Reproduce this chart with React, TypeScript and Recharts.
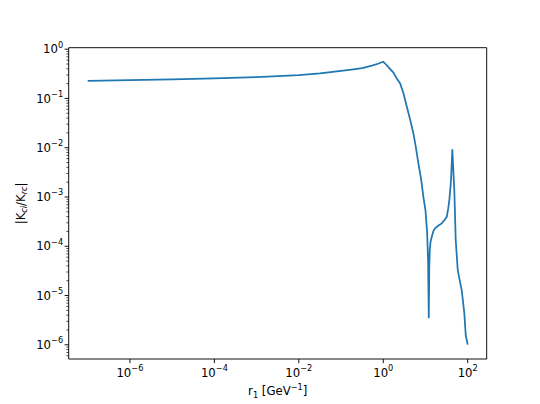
import React from 'react';
import { LineChart, Line, XAxis, YAxis, ReferenceArea } from 'recharts';

const rValues = [
  1e-7, 1e-6, 1e-5, 1e-4, 1e-3, 1e-2, 0.0316, 0.1, 0.178, 0.316, 0.562, 0.75, 1.0,
  1.148, 1.318, 1.742, 2.089, 2.512, 3.02, 3.614, 4.365, 5.176, 5.888, 6.761, 7.943, 8.913,
  10.0, 10.96, 11.53, 11.97, 12.3, 12.65, 13.18, 14.09, 15.49, 16.87, 19.95, 24.27, 28.18,
  31.92, 34.67, 36.73, 40.27, 43.25, 48.19, 52.0, 58.08, 64.57, 72.11, 83.18, 89.74, 100,
];
const ratioValues = [
  0.227, 0.235, 0.244, 0.255, 0.271, 0.299, 0.324, 0.361, 0.385, 0.413, 0.468, 0.507, 0.555,
  0.495, 0.432, 0.335, 0.254, 0.201, 0.126, 0.0676, 0.0363, 0.0195, 0.0105, 0.0049, 0.00219, 0.001,
  5.37e-4, 1.86e-4, 5.0e-5, 3.47e-6, 3.8e-5, 8.4e-5, 1.23e-4, 1.56e-4, 2.06e-4, 2.31e-4, 2.61e-4, 2.91e-4, 3.4e-4,
  3.96e-4, 5.94e-4, 8.65e-4, 2.2e-3, 9.25e-3, 1.38e-3, 1.34e-4, 3.3e-5, 2.06e-5, 1.29e-5, 4.4e-6, 1.58e-6, 1.01e-6,
];
const xTicks = [1e-6, 1e-4, 1e-2, 1, 1e2];
const yMajorTicks = [1e-6, 1e-5, 1e-4, 1e-3, 1e-2, 1e-1, 1];

const X_DOMAIN: [number, number] = [3.548e-8, 281.8];
const Y_DOMAIN: [number, number] = [5.15e-7, 1.072];

const data = rValues.map((r, i) => ({ r, k: ratioValues[i] }));

const yTicks: number[] = [];
for (let e = -7; e <= 0; e++) {
  for (let m = 1; m <= 9; m++) {
    const v = m * Math.pow(10, e);
    if (v >= Y_DOMAIN[0] && v <= Y_DOMAIN[1]) yTicks.push(v);
  }
}

const FONT = 'DejaVu Sans';
const FS = 11.7;
const SUP = 8.2;
const AX = '#000000';

const expStr = (v: number) => {
  const e = Math.round(Math.log10(v));
  return e < 0 ? '\u2212' + Math.abs(e) : String(e);
};

const XTick = (props: any) => {
  const { x, y, payload } = props;
  return (
    <g>
      <line x1={x} y1={y} x2={x} y2={y + 4.1} stroke={AX} strokeWidth={0.94} />
      <text x={x} y={y + 18} textAnchor="middle" fontSize={FS} fontFamily={FONT} fill="#000">
        10<tspan dy={-5.8} fontSize={SUP}>{expStr(payload.value)}</tspan>
      </text>
    </g>
  );
};

const YTick = (props: any) => {
  const { x, y, payload } = props;
  const v = payload.value;
  const isMajor = yMajorTicks.some((t) => Math.abs(Math.log10(t) - Math.log10(v)) < 1e-6);
  if (!isMajor) {
    return <line x1={x} y1={y} x2={x - 2.3} y2={y} stroke={AX} strokeWidth={0.7} />;
  }
  const ex = expStr(v);
  return (
    <g>
      <line x1={x} y1={y} x2={x - 4.1} y2={y} stroke={AX} strokeWidth={0.94} />
      <text x={x - 5.6} y={y + 4.2} textAnchor="end" fontSize={FS} fontFamily={FONT} fill="#000">
        10<tspan dy={-5.8} fontSize={SUP}>{ex}</tspan>
      </text>
    </g>
  );
};

const XLabel = (props: any) => {
  const vb = props.viewBox || {};
  const cx = vb.x + vb.width / 2;
  const by = vb.y + 36;
  return (
    <text x={cx} y={by} textAnchor="middle" fontSize={FS} fontFamily={FONT} fill="#000">
      r<tspan dy={3} fontSize={SUP}>1</tspan>
      <tspan dy={-3}> [GeV</tspan>
      <tspan dy={-5.3} fontSize={SUP}>{'\u22121'}</tspan>
      <tspan dy={5.3}>]</tspan>
    </text>
  );
};

const YLabel = (props: any) => {
  const vb = props.viewBox || {};
  const bx = vb.x + vb.width - 44;
  const cy = vb.y + vb.height / 2;
  return (
    <text
      x={bx}
      y={cy}
      transform={`rotate(-90, ${bx}, ${cy})`}
      textAnchor="middle"
      fontSize={FS}
      fontFamily={FONT}
      fill="#000"
    >
      |K<tspan dy={2.6} fontSize={SUP} fontStyle="italic">ci</tspan>
      <tspan dy={-2.6}>/K</tspan>
      <tspan dy={2.6} fontSize={SUP} fontStyle="italic">rc</tspan>
      <tspan dy={-2.6}>|</tspan>
    </text>
  );
};

export default function App() {
  return (
    <div style={{ position: 'absolute', left: 0, top: 0, width: 540, height: 404, background: '#fff' }}>
      <LineChart
        width={540}
        height={404}
        data={data}
        margin={{ top: 47.7, right: 53.3, bottom: 15, left: 8.7 }}
      >
        <XAxis
          dataKey="r"
          type="number"
          scale="log"
          domain={X_DOMAIN}
          allowDataOverflow
          ticks={xTicks}
          interval={0}
          tick={XTick}
          tickSize={0}
          tickMargin={0}
          tickLine={false}
          axisLine={false}
          height={30}
          label={XLabel}
        />
        <YAxis
          type="number"
          scale="log"
          domain={Y_DOMAIN}
          allowDataOverflow
          ticks={yTicks}
          interval={0}
          tick={YTick}
          tickSize={0}
          tickMargin={0}
          tickLine={false}
          axisLine={false}
          width={60}
          label={YLabel}
        />
        <ReferenceArea
          x1={X_DOMAIN[0]}
          x2={X_DOMAIN[1]}
          y1={Y_DOMAIN[0]}
          y2={Y_DOMAIN[1]}
          fill="none"
          fillOpacity={0}
          stroke={AX}
          strokeWidth={0.94}
          strokeOpacity={1}
          ifOverflow="visible"
        />
        <Line
          type="linear"
          dataKey="k"
          stroke="#1f77b4"
          strokeWidth={1.76}
          dot={false}
          isAnimationActive={false}
        />
      </LineChart>
    </div>
  );
}
